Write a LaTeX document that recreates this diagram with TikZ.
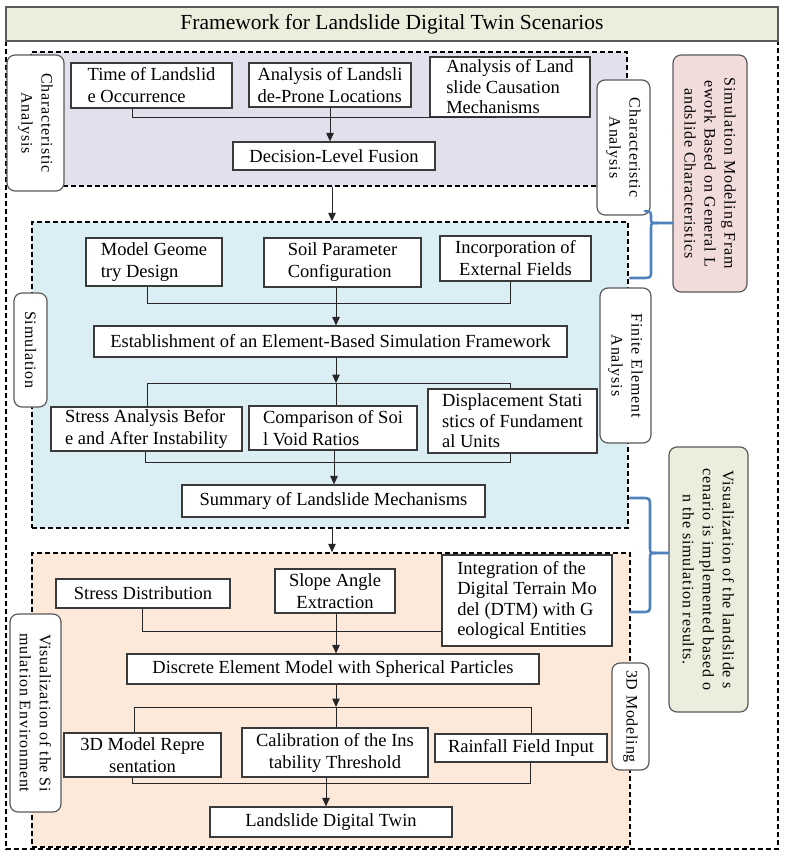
\documentclass[tikz,border=0pt]{standalone}
\usepackage{fontspec}
\setmainfont{Liberation Serif}
\newfontfamily\boxfont{Liberation Serif}
\newfontfamily\lblfont[LetterSpace=5]{Liberation Serif}
\usetikzlibrary{arrows.meta}
\definecolor{titlefill}{HTML}{EBEEDD}
\definecolor{purplefill}{HTML}{E4DFEC}
\definecolor{bluefill}{HTML}{DBEEF3}
\definecolor{peachfill}{HTML}{FDE9DA}
\definecolor{pinkfill}{HTML}{F2DCDB}
\definecolor{greenfill}{HTML}{EBEEDC}
\definecolor{boxgray}{HTML}{3A3A3A}
\definecolor{lblgray}{HTML}{5A5A5A}
\definecolor{braceblue}{HTML}{4F81BD}
\begin{document}
\begin{tikzpicture}[x=1pt,y=-1pt,
  sz/.style 2 args={minimum width=#1pt, minimum height=#2pt},
  bx/.style={draw=boxgray, line width=1.2pt, fill=white, inner sep=1pt, font=\boxfont\fontsize{18.5}{22}\selectfont, align=center},
  tight/.style={font=\boxfont\fontsize{18.5}{20.5}\selectfont},
  grp/.style={draw=black, line width=1.4pt, dash pattern=on 5pt off 3pt, inner sep=0pt},
  lbl/.style={draw=lblgray, line width=1.2pt, fill=white, rounded corners=8pt, rotate=-90, font=\lblfont\fontsize{16}{20}\selectfont, align=center, inner sep=1pt},
  conn/.style={line width=1pt, draw=black!85},
  arr/.style={conn, -{Triangle[length=8.5pt,width=7.5pt]}},
  brace/.style={draw=braceblue, line width=2.6pt, line cap=round, line join=round}
]
\useasboundingbox (0,0) rectangle (784,856);
\fill[white] (0,0) rectangle (784,856);

% outer frame
\draw[line width=1.4pt, dash pattern=on 5pt off 3pt] (6,41) rectangle (778,849);
\node[draw=lblgray, line width=1.4pt, fill=titlefill, sz={772}{34}, font=\boxfont\fontsize{21.5}{24}\selectfont] (title) at (392,24) {Framework for Landslide Digital Twin Scenarios};

% group boxes
\node[grp, fill=purplefill, sz={596}{134}] (pg) at (329,119) {};
\node[grp, fill=bluefill, sz={596}{306}] (bg) at (330,375) {};
\node[grp, fill=peachfill, sz={598}{294}] (og) at (331,700) {};

% purple group boxes
\node[bx, sz={161}{45}, align=left] (t1) at (151.5,85.5) {Time of Landslid\\e Occurrence};
\node[bx, sz={162}{44}, align=left] (t2) at (330,85) {Analysis of Landsli\\de-Prone Locations};
\node[bx, tight, sz={160}{60}, align=left] (t3) at (510,87) {Analysis of Land\\slide Causation\\Mechanisms};
\node[bx, sz={202}{28}] (fus) at (334,156) {Decision-Level Fusion};

% blue group boxes
\node[bx, sz={136}{48}, align=left] (m1) at (154,262) {Model Geome\\try Design};
\node[bx, sz={157}{49}, align=left] (m2) at (342.5,262.5) {Soil Parameter\\Configuration};
\node[bx, sz={151}{45}] (m3) at (515.5,258.5) {Incorporation of\\External Fields};
\node[bx, sz={473}{31}] (est) at (330.5,341.5) {Establishment of an Element-Based Simulation Framework};
\node[bx, sz={191}{44}, align=left] (s1) at (146.5,429) {Stress Analysis Befor\\e and After Instability};
\node[bx, sz={168}{44}, align=left] (s2) at (333,428) {Comparison of Soi\\l Void Ratios};
\node[bx, tight, sz={169}{64}, align=left] (s3) at (512.5,421) {Displacement Stati\\stics of Fundament\\al Units};
\node[bx, sz={303}{32}] (sum) at (333.5,501) {Summary of Landslide Mechanisms};

% orange group boxes
\node[bx, sz={174}{29}] (d1) at (143,593.5) {Stress Distribution};
\node[bx, sz={120}{44}] (d2) at (335,591) {Slope Angle\\Extraction};
\node[bx, tight, sz={170}{91}, align=left] (d3) at (527,600.5) {Integration of the\\Digital Terrain Mo\\del (DTM) with G\\eological Entities};
\node[bx, sz={412}{30}] (dem) at (333,669) {Discrete Element Model with Spherical Particles};
\node[bx, sz={157}{44}] (r1) at (142.5,755) {3D Model Repre\\sentation};
\node[bx, sz={186}{49}] (r2) at (335,752.5) {Calibration of the Ins\\tability Threshold};
\node[bx, sz={172}{28}] (r3) at (521,748) {Rainfall Field Input};
\node[bx, sz={242}{30}] (twin) at (331,822) {Landslide Digital Twin};

% purple connectors
\coordinate (pA) at (132,118); \coordinate (pB) at (495,118);
\draw[conn] (t1.south -| pA) -- (pA) -- (pB) -- (t3.south -| pB);
\coordinate (pm) at (330,130);
\draw[arr] (t2.south -| pm) -- (fus.north -| pm);

% group arrows
\coordinate (gx) at (332,200);
\draw[arr] (pg.south -| gx) -- (bg.north -| gx);
\draw[arr] (bg.south -| gx) -- (og.north -| gx);

% blue connectors
\coordinate (bA) at (147,303); \coordinate (bB) at (510,303);
\draw[conn] (m1.south -| bA) -- (bA) -- (bB) -- (m3.south -| bB);
\coordinate (bm) at (336,383);
\draw[arr] (m2.south -| bm) -- (est.north -| bm);
\draw[arr] (est.south -| bm) -- (bm);
\coordinate (bC) at (147,383); \coordinate (bD) at (510,383);
\draw[conn] (s1.north -| bC) -- (bC) -- (bD) -- (s3.north -| bD);
\draw[conn] (bm) -- (s2.north -| bm);
\coordinate (bE) at (145,462); \coordinate (bF) at (510,462);
\draw[conn] (s1.south -| bE) -- (bE) -- (bF) -- (s3.south -| bF);
\coordinate (bn) at (334,462);
\draw[arr] (s2.south -| bn) -- (sum.north -| bn);

% orange connectors
\coordinate (oA) at (142,631);
\draw[conn] (d1.south -| oA) -- (oA) -- (d3.west |- oA);
\coordinate (om) at (336,707);
\draw[arr] (d2.south -| om) -- (dem.north -| om);
\draw[arr] (dem.south -| om) -- (om);
\coordinate (oB) at (134,707); \coordinate (oC) at (531,707);
\draw[conn] (r1.north -| oB) -- (oB) -- (oC) -- (r3.north -| oC);
\draw[conn] (om) -- (r2.north -| om);
\coordinate (oD) at (132,783); \coordinate (oE) at (530,783);
\draw[conn] (r1.south -| oD) -- (oD) -- (oE) -- (r3.south -| oE);
\coordinate (on) at (326,783);
\draw[arr] (r2.south -| on) -- (twin.north -| on);

% side labels
\node[lbl, sz={136}{57}] (la1) at (35.5,123) {Characteristic\\Analysis};
\node[lbl, sz={135}{53}] (la2) at (623.5,147.5) {Characteristic\\Analysis};
\node[lbl, sz={114}{33}] (la3) at (30.5,350) {Simulation};
\node[lbl, sz={155}{51}] (la4) at (625.5,365.5) {Finite Element\\Analysis};
\node[lbl, sz={107}{37}] (la5) at (630.5,716.5) {3D Modeling};
\node[lbl, sz={198}{51}] (la6) at (35.5,713) {Visualization of the Si\\mulation Environment};
\node[lbl, fill=pinkfill, sz={237}{74}] (pink) at (710,173.5) {Simulation Modeling Fram\\ework Based on General L\\andslide Characteristics};
\node[lbl, fill=greenfill, sz={265}{79}] (green) at (708.5,579.5) {Visualization of the landslide s\\cenario is implemented based o\\n the simulation results.};

% braces
\coordinate (b1) at (657,223);
\draw[brace] (645,211) .. controls (651,212) .. (651,217) -- (651,218) .. controls (651,223) .. (b1) -- (b1 -| pink.south);
\draw[brace] (b1) .. controls (651,223) .. (651,229) -- (651,271) .. controls (651,278) .. (641,278) -- (630,278);
\coordinate (b2) at (656,553);
\draw[brace] (630,498) -- (641,498) .. controls (650,498) .. (650,506) -- (650,547) .. controls (650,553) .. (b2) -- (b2 -| green.south);
\draw[brace] (b2) .. controls (650,553) .. (650,559) -- (650,604) .. controls (650,612) .. (641,612) -- (630,612);
\end{tikzpicture}
\end{document}
